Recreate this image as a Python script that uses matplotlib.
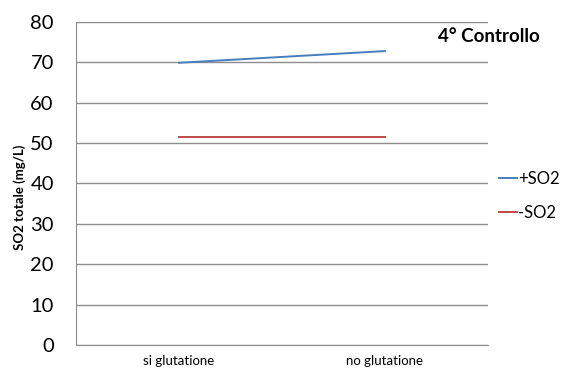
import matplotlib
matplotlib.use("Agg")
import matplotlib.pyplot as plt

categories = ["si glutatione", "no glutatione"]
plus_so2 = [69.9, 72.8]
minus_so2 = [51.6, 51.6]
y_ticks = [0, 10, 20, 30, 40, 50, 60, 70, 80]

plt.rcParams['font.family'] = ['Lato', 'DejaVu Sans']

fig = plt.figure(figsize=(5.65, 3.72), dpi=100)
ax = fig.add_axes([76/565, 1 - 345/372, 412/565, 323/372])

x = [0, 1]
ax.plot(x, plus_so2, color="#4a7ebb", lw=1.4, label="+SO2")
ax.plot(x, minus_so2, color="#be4b48", lw=1.4, label="-SO2")

ax.set_xlim(-0.5, 1.5)
ax.set_ylim(0, 80)
ax.set_yticks(y_ticks)
ax.set_yticklabels([str(v) for v in y_ticks], fontsize=14.5)
ax.set_xticks(x)
ax.set_xticklabels(categories, fontsize=9.5)
ax.tick_params(length=0, pad=7)
ax.tick_params(axis="y", pad=16)

ax.grid(axis="y", color="#8c8c8c", lw=1)
ax.set_axisbelow(True)
for s in ["top", "right"]:
    ax.spines[s].set_visible(False)
for s in ["left", "bottom"]:
    ax.spines[s].set_color("#8c8c8c")

fig.text(20/565, 1 - 197/372, "SO2 totale (mg/L)", fontsize=9.5, fontweight="bold",
         rotation=90, ha="center", va="center")

fig.text(540/565, 1 - 36/372, "4° Controllo", fontsize=13.5, fontweight="bold",
         va="center", ha="right")

leg = fig.legend(loc="center left", bbox_to_anchor=(499/565, 1 - 196/372),
                 frameon=False, fontsize=12, handlelength=1.05, borderpad=0,
                 borderaxespad=0, handletextpad=0.1, labelspacing=1.1)

fig.savefig("out.png", dpi=100)
